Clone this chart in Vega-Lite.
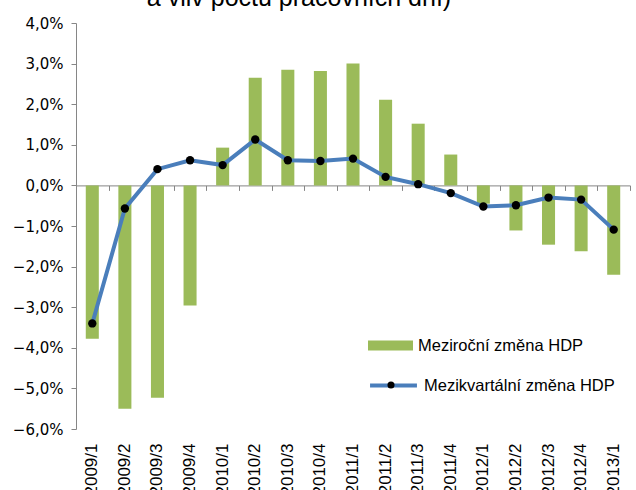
{
  "$schema": "https://vega.github.io/schema/vega-lite/v6.json",
  "width": 554,
  "height": 406,
  "autosize": "none",
  "padding": {"left": 76, "top": 23, "right": 6, "bottom": 61},
  "background": "white",
  "title": {
    "text": "a vliv počtu pracovních dní)",
    "font": "Liberation Sans",
    "fontSize": 25,
    "fontWeight": "normal",
    "color": "black",
    "anchor": "middle",
    "frame": "group",
    "dx": -54,
    "offset": 0,
    "dy": 15,
    "baseline": "alphabetic"
  },
  "data": {
    "values": [
      {"q": "2009/1", "yoy": -3.78, "qoq": -3.4},
      {"q": "2009/2", "yoy": -5.5, "qoq": -0.57},
      {"q": "2009/3", "yoy": -5.23, "qoq": 0.4},
      {"q": "2009/4", "yoy": -2.96, "qoq": 0.62},
      {"q": "2010/1", "yoy": 0.93, "qoq": 0.5},
      {"q": "2010/2", "yoy": 2.65, "qoq": 1.13},
      {"q": "2010/3", "yoy": 2.85, "qoq": 0.62},
      {"q": "2010/4", "yoy": 2.82, "qoq": 0.6},
      {"q": "2011/1", "yoy": 3.0, "qoq": 0.66},
      {"q": "2011/2", "yoy": 2.11, "qoq": 0.21},
      {"q": "2011/3", "yoy": 1.52, "qoq": 0.03},
      {"q": "2011/4", "yoy": 0.76, "qoq": -0.19},
      {"q": "2012/1", "yoy": -0.45, "qoq": -0.52},
      {"q": "2012/2", "yoy": -1.11, "qoq": -0.49},
      {"q": "2012/3", "yoy": -1.46, "qoq": -0.3},
      {"q": "2012/4", "yoy": -1.62, "qoq": -0.35},
      {"q": "2013/1", "yoy": -2.2, "qoq": -1.09}
    ]
  },
  "layer": [
    {
      "mark": {"type": "bar", "width": {"band": 0.4}},
      "encoding": {
        "x": {
          "field": "q", "type": "ordinal", "sort": null,
          "scale": {"paddingInner": 0, "paddingOuter": 0},
          "axis": {
            "orient": "bottom",
            "title": null,
            "labelAngle": -90,
            "labelFont": "Liberation Sans",
            "labelFontSize": 17,
            "labelColor": "black",
            "domain": false,
            "ticks": false,
            "tickSize": 0,
            "labelPadding": 14,
            "grid": false
          }
        },
        "y": {
          "field": "yoy", "type": "quantitative",
          "scale": {"domain": [-6, 4], "nice": false, "zero": false}
        },
        "fill": {
          "datum": "Meziroční změna HDP",
          "type": "nominal",
          "scale": {"range": ["#9BBB59"]},
          "legend": {
            "orient": "none",
            "legendX": 292,
            "legendY": 300,
            "title": null,
            "padding": 0,
            "symbolType": "M-1,-0.22H1V0.22H-1Z",
            "symbolSize": 2025,
            "symbolStrokeWidth": 0,
            "labelFont": "Liberation Sans",
            "labelFontSize": 16.5,
            "labelColor": "black",
            "labelOffset": 5,
            "labelLimit": 300
          }
        }
      }
    },
    {
      "mark": {"type": "line", "strokeWidth": 4},
      "encoding": {
        "x": {
          "field": "q", "type": "ordinal", "sort": null,
          "axis": {
            "orient": "bottom",
            "offset": -243.6,
            "title": null,
            "labels": false,
            "domain": true,
            "domainColor": "#868686",
            "ticks": true,
            "tickColor": "#868686",
            "tickSize": 5,
            "tickBand": "extent",
            "grid": false
          }
        },
        "y": {"field": "qoq", "type": "quantitative"},
        "stroke": {
          "datum": "Mezikvartální změna HDP",
          "type": "nominal",
          "scale": {"range": ["#4A7EBB"]},
          "legend": {
            "orient": "none",
            "legendX": 292,
            "legendY": 337,
            "title": null,
            "padding": 0,
            "symbolType": "stroke",
            "symbolSize": 2200,
            "symbolStrokeWidth": 4,
            "labelFont": "Liberation Sans",
            "labelFontSize": 16.5,
            "labelColor": "black",
            "labelOffset": 5,
            "labelLimit": 300
          }
        }
      }
    },
    {
      "mark": {"type": "point", "filled": true, "color": "black", "size": 70, "opacity": 1},
      "encoding": {
        "x": {"field": "q", "type": "ordinal", "sort": null, "axis": null},
        "y": {"field": "qoq", "type": "quantitative"},
        "shape": {
          "datum": "dot",
          "type": "nominal",
          "scale": {"range": ["circle"]},
          "legend": {
            "orient": "none",
            "legendX": 310,
            "legendY": 357,
            "title": null,
            "padding": 0,
            "zindex": 5,
            "symbolSize": 50,
            "symbolFillColor": "black",
            "symbolStrokeColor": "black",
            "labelExpr": "''"
          }
        }
      }
    }
  ],
  "resolve": {"axis": {"x": "independent"}},
  "config": {
    "view": {"stroke": null},
    "axisY": {
      "title": null,
      "grid": false,
      "domainColor": "#868686",
      "tickColor": "#868686",
      "tickSize": 5,
      "values": [-6, -5, -4, -3, -2, -1, 0, 1, 2, 3, 4],
      "labelExpr": "replace(format(datum.value, '.1f'), '.', ',') + '%'",
      "labelFont": "DejaVu Sans",
      "labelFontSize": 15,
      "labelColor": "black",
      "labelPadding": 8
    }
  }
}
